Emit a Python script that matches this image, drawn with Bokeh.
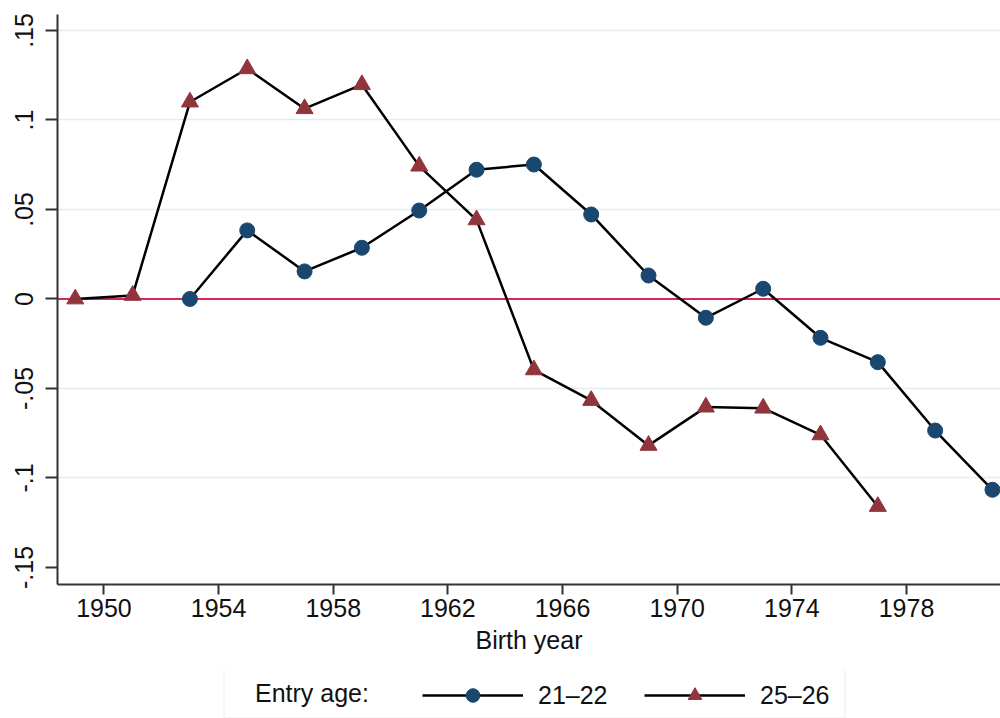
from bokeh.plotting import figure
from bokeh.models import (Range1d, FixedTicker, Legend, LegendItem,
                          ColumnDataSource, Span)
from bokeh.layouts import column
from bokeh.embed import file_html
from bokeh.resources import INLINE

# ---- data -------------------------------------------------------------
years_a = [1953, 1955, 1957, 1959, 1961, 1963, 1965, 1967, 1969, 1971,
           1973, 1975, 1977, 1979, 1981]
vals_a = [0.0, 0.0383, 0.0154, 0.0286, 0.0494, 0.0722, 0.0751, 0.0472,
          0.0131, -0.0105, 0.0057, -0.0217, -0.0353, -0.0735, -0.1066]

years_b = [1949, 1951, 1953, 1955, 1957, 1959, 1961, 1963, 1965, 1967,
           1969, 1971, 1973, 1975, 1977]
vals_b = [0.0, 0.002, 0.110, 0.1286, 0.1063, 0.1197, 0.0742, 0.0442,
          -0.0396, -0.0567, -0.0818, -0.0604, -0.061, -0.0759, -0.1159]

x_ticks = [1950, 1954, 1958, 1962, 1966, 1970, 1974, 1978]
y_ticks = [-0.15, -0.1, -0.05, 0.0, 0.05, 0.1, 0.15]
y_tick_labels = ["-.15", "-.1", "-.05", "0", ".05", ".1", ".15"]
y_grid_ticks = [-0.1, -0.05, 0.05, 0.1, 0.15]
series_labels = ["21\u201322", "25\u201326"]
legend_title = "Entry age:"
x_title = "Birth year"

# ---- styles -----------------------------------------------------------
FONT = "Liberation Sans"
BLUE = "#1a476f"
RED = "#90353b"
REFLINE = "#cf2a5a"
GRID = "#e3edf0"
AXIS = "#333333"
TXT = "#111111"

p = figure(width=1000, height=670,
           x_range=Range1d(1948.38, 1981.28),
           y_range=Range1d(-0.1595, 0.1589),
           output_backend="svg", toolbar_location=None,
           min_border_left=57, min_border_right=0,
           min_border_top=14, min_border_bottom=86)
p.background_fill_color = "white"
p.border_fill_color = "white"
p.outline_line_color = None

p.xaxis.ticker = FixedTicker(ticks=x_ticks)
p.yaxis.ticker = FixedTicker(ticks=y_ticks)
p.yaxis.major_label_overrides = {v: s for v, s in zip(y_ticks, y_tick_labels)}
p.yaxis.major_label_orientation = "vertical"

for ax in (p.xaxis[0], p.yaxis[0]):
    ax.major_label_text_font = FONT
    ax.major_label_text_font_size = "25px"
    ax.major_label_text_color = TXT
    ax.axis_line_color = AXIS
    ax.axis_line_width = 2
    ax.major_tick_line_color = AXIS
    ax.major_tick_line_width = 2
    ax.major_tick_in = 0
    ax.minor_tick_in = 0
    ax.minor_tick_out = 0

p.xaxis.major_tick_out = 10
p.xaxis.major_label_standoff = 4
p.yaxis.major_tick_out = 12
p.yaxis.major_label_standoff = 12

p.xaxis.axis_label = x_title
p.xaxis.axis_label_text_font = FONT
p.xaxis.axis_label_text_font_size = "25px"
p.xaxis.axis_label_text_font_style = "normal"
p.xaxis.axis_label_text_color = TXT
p.xaxis.axis_label_standoff = 6

p.xgrid.visible = False
p.ygrid.ticker = FixedTicker(ticks=y_grid_ticks)
p.ygrid.grid_line_color = GRID
p.ygrid.grid_line_width = 1.5

ref = Span(location=0, dimension="width", line_color=REFLINE, line_width=2,
           level="underlay")
p.add_layout(ref)

src_a = ColumnDataSource(dict(x=years_a, y=vals_a))
src_b = ColumnDataSource(dict(x=years_b, y=vals_b))

line_style = dict(line_color="black", line_width=2.5)
mark_a = dict(marker="circle", size=15, fill_color=BLUE, line_color=BLUE)
mark_b = dict(marker="triangle", size=17, fill_color=RED, line_color=RED)

p.line("x", "y", source=src_a, **line_style)
p.line("x", "y", source=src_b, **line_style)
p.scatter("x", "y", source=src_a, **mark_a)
p.scatter("x", "y", source=src_b, **mark_b)

# ---- legend strip (frame aligned with the plot frame) -------------------
leg = figure(width=1000, height=48, x_range=Range1d(0, 943),
             y_range=Range1d(0, 48), x_axis_type=None, y_axis_type=None,
             output_backend="svg", toolbar_location=None,
             min_border_left=57, min_border_right=0,
             min_border_top=0, min_border_bottom=0)
leg.grid.visible = False
leg.outline_line_color = None
leg.background_fill_color = "white"
leg.border_fill_color = "white"

# key renderers: same series, lying outside this strip's ranges (not drawn)
ka_l = leg.line("x", "y", source=src_a, **line_style)
ka_m = leg.scatter("x", "y", source=src_a, **mark_a)
kb_l = leg.line("x", "y", source=src_b, **line_style)
kb_m = leg.scatter("x", "y", source=src_b, **mark_b)
title_r = leg.line("x", "y", source=ColumnDataSource(dict(x=[], y=[])),
                   line_alpha=0)

box_legend = Legend(items=[LegendItem(label=legend_title, renderers=[title_r])],
                    location=(166, -1), orientation="horizontal",
                    glyph_width=23, glyph_height=34, label_height=34,
                    label_width=582, label_standoff=0, padding=7, margin=0,
                    border_line_color=GRID, border_line_width=2,
                    background_fill_color="white", background_fill_alpha=1,
                    label_text_font=FONT, label_text_font_size="25px",
                    label_text_color=TXT)
leg.add_layout(box_legend)


def make_legend(label, renderers, xoff):
    return Legend(items=[LegendItem(label=label, renderers=renderers)],
                  location=(xoff, 6), orientation="horizontal",
                  glyph_width=101, glyph_height=34, label_height=34,
                  label_standoff=15, padding=0, margin=0,
                  border_line_color=None, background_fill_alpha=0,
                  label_text_font=FONT, label_text_font_size="25px",
                  label_text_color=TXT)


leg.add_layout(make_legend(series_labels[0], [ka_l, ka_m], 365))
leg.add_layout(make_legend(series_labels[1], [kb_l, kb_m], 587))

layout = column(p, leg, spacing=0)

open("out.html", "w").write(file_html(layout, INLINE))
